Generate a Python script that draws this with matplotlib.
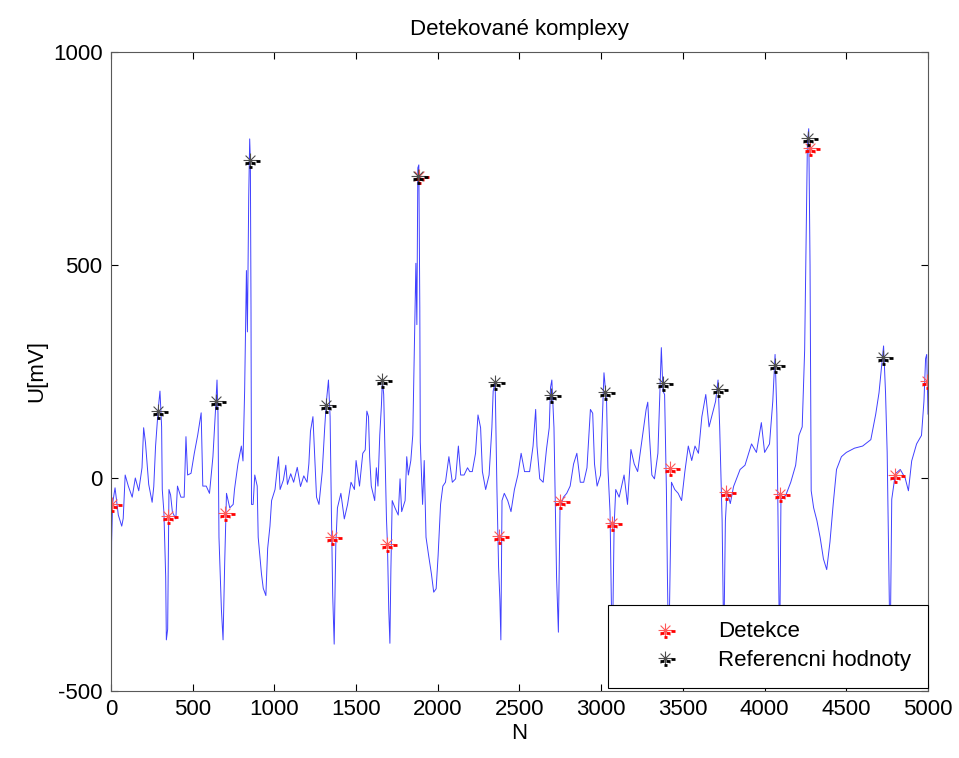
import numpy as np
import matplotlib.pyplot as plt
from matplotlib.path import Path
from matplotlib.legend_handler import HandlerTuple

plt.rcParams['font.family'] = ['Liberation Sans', 'DejaVu Sans']
plt.rcParams['axes.unicode_minus'] = False

# ECG signal, key points (N, U[mV])
sig_n = [0, 4, 10, 25, 45, 66, 75, 87, 107, 130, 149, 170, 190, 200, 211, 231, 252, 262, 273, 289,
         300, 310, 314, 324, 335, 339, 347, 355, 365, 376, 397, 407, 428, 448, 459, 469, 490, 510, 531, 552,
         562, 583, 603, 624, 640, 649, 655, 661, 676, 686, 696, 707, 727, 748,
         756, 777, 798, 808, 818, 829, 835, 843, 849, 853, 857, 860, 870, 880, 895, 901, 911, 921, 932, 948,
         959, 973, 983, 1004, 1025, 1035, 1055, 1070, 1080, 1100, 1118, 1140, 1160, 1180, 1200, 1211, 1221,
         1236, 1246, 1258, 1273, 1293, 1308, 1318, 1331, 1341, 1349, 1357, 1366, 1376, 1386, 1407, 1428,
         1448, 1469, 1490, 1500, 1521, 1541, 1556, 1566, 1576, 1583, 1593, 1614, 1624, 1634, 1645, 1655,
         1661, 1669, 1676, 1686, 1692, 1700, 1707, 1713, 1721, 1738, 1758, 1769, 1779, 1800, 1810, 1820,
         1835, 1847, 1857, 1866, 1872, 1878, 1884, 1890, 1893, 1907, 1917, 1928, 1944, 1961, 1975, 1990,
         2002, 2017, 2031, 2047, 2068, 2089, 2109, 2126, 2140, 2161, 2182, 2196,
         2211, 2231, 2246, 2262, 2273, 2293, 2314, 2331, 2339, 2351, 2362, 2372, 2380, 2386, 2393, 2407,
         2428, 2448, 2469, 2490, 2510, 2531, 2562, 2583, 2599, 2607, 2624, 2645, 2665, 2682, 2690, 2698,
         2711, 2719, 2727, 2738, 2748, 2769, 2789, 2810, 2831, 2851, 2872,
         2893, 2913, 2934, 2948, 2959, 2975, 2996, 3006, 3017, 3033, 3041, 3054, 3062, 3068, 3079, 3089,
         3110, 3130, 3140, 3161, 3182, 3202, 3223, 3254, 3275, 3285, 3295, 3310, 3326, 3347, 3362, 3368,
         3378, 3388, 3399, 3405, 3413, 3430, 3450, 3471, 3492, 3512, 3533, 3554, 3574, 3595, 3616, 3640,
         3660, 3680, 3700, 3715, 3725, 3740, 3750, 3760, 3770, 3790, 3810, 3850, 3880, 3920, 3950, 3980,
         4000, 4030, 4050, 4064, 4075, 4085, 4092, 4100, 4130, 4160, 4190, 4210, 4230, 4245, 4255, 4262,
         4270, 4278, 4285, 4300, 4320, 4340, 4360, 4380, 4400, 4420, 4440, 4470, 4500, 4550, 4600, 4650,
         4680, 4700, 4715, 4728, 4740, 4750, 4760, 4768, 4778, 4800, 4830, 4860, 4880, 4900, 4930, 4960,
         4975, 4985, 4992, 5000]
sig_u = [-460, -150, -60, -23, -87, -113, -95, 7, -20, -45, 0, -30, 24, 118, 84, -15, -57, -20, 75, 161,
         204, 120, -27, -80, -233, -380, -355, -27, -40, -80, -96, -19, -45, -45, 97, 7, 11, 58, 101, 153,
         -19, -19, -36, 50, 161, 230, 150, -139, -310, -380, -199, -36, -70, -62,
         -27, 33, 75, 40, 204, 487, 343, 659, 796, 745, 400, -62, -62, 7, -19, -139, -182, -225, -259, -276,
         -165, -113, -53, -27, 50, -27, -5, 30, -15, 10, -10, 25, -20, 5, -10, 33, 110,
         144, 60, -45, -62, 15, 118, 178, 230, 144, -79, -276, -390, -156, -70, -36, -96,
         -62, -10, -27, 41, -19, 58, 66, 157, 144, 50, -19, -53, 24, -19, 101, 170,
         230, 196, 75, -96, -156, -310, -388, -216, -53, -70, -87, -2, -79, -53, 50, 7,
         41, 101, 316, 504, 360, 728, 735, 400, 84, -62, 41, -139, -182, -225, -268, -260,
         -182, -62, -19, -10, 50, -10, -2, 75, 7, 7, 24, 15,
         15, 58, 148, 118, 15, -27, 7, 118, 204, 225, -27, -208, -285, -380, -53, -36,
         -53, -79, -27, 7, 58, 15, 15, 75, 161, 75, -2, -10, 67, 118, 213, 230,
         118, -62, -233, -362, -70, -45, -36, -19, 33, 58, -10,
         -10, 24, 161, 152, 33, -19, 7, 127, 247, 178, 24, -79, -285, -420, -113, -27,
         -45, -10, 7, -62, 67, 33, 15, 101, 161, 178, 101, 7, -2, 58, 230, 306,
         204, 196, -27, -225, -430, -10, -27, -36, -53, 15, 75, 41, 75, 58, 144, 196,
         120, 150, 180, 230, 120, -100, -400, -100, -30, -60, -20, 20, 30, 80, 60, 130,
         60, 80, 180, 290, 150, -200, -420, -50, -40, -10, 30, 100, 120, 300, 600, 790,
         820, 500, -30, -70, -100, -140, -190, -215, -150, -60, 20, 50, 60, 70, 75, 90,
         150, 200, 260, 310, 200, 60, -200, -420, -50, 10, 20, 0, -30, 40, 80, 100,
         180, 280, 290, 150]

# detected complexes (red) and reference values (black)
det_n = [4, 351, 696, 1351, 1692, 1882, 2376, 2748, 3068, 3419, 3764, 4094, 4278, 4798, 4994]
det_u = [-62, -89, -83, -139, -154, 710, -135, -53, -105, 24, -33, -38, 775, 7, 228]
ref_n = [289, 640, 849, 1318, 1659, 1878, 2349, 2690, 3023, 3378, 3715, 4064, 4266, 4725]
ref_u = [157, 180, 746, 172, 230, 708, 225, 194, 202, 223, 209, 265, 798, 284]

# asterisk marker and the little dashes that come with it
ang = np.deg2rad(np.arange(0, 180, 45))
star_v, star_c = [], []
for a in ang:
    star_v += [(np.cos(a), np.sin(a)), (-np.cos(a), -np.sin(a))]
    star_c += [Path.MOVETO, Path.LINETO]
star_v.append((1.6, 0))
star_c.append(Path.MOVETO)
star = Path(star_v, star_c)

dash_v = [(0.9, -0.1), (1.5, -0.1), (-0.7, -0.5), (-0.2, -0.5), (0.2, -0.45), (0.7, -0.45),
          (-0.15, -0.95), (0.3, -0.95), (1.6, 0)]
dash_c = [Path.MOVETO, Path.LINETO] * 4 + [Path.MOVETO]
dash = Path(dash_v, dash_c)

fig = plt.figure(figsize=(9.59, 7.58), dpi=100)
ax = fig.add_axes([0.1157, 0.0884, 0.852, 0.843])

ax.plot(sig_n, sig_u, color=(0.25, 0.25, 1.0), lw=0.7)

ms = 16
r1, = ax.plot(det_n, det_u, ls='none', marker=star, ms=ms, mec=(1, 0.35, 0.35), mew=0.8)
r2, = ax.plot(det_n, det_u, ls='none', marker=dash, ms=ms, mec='red', mew=2)
b1, = ax.plot(ref_n, ref_u, ls='none', marker=star, ms=ms, mec='0.3', mew=0.8)
b2, = ax.plot(ref_n, ref_u, ls='none', marker=dash, ms=ms, mec='black', mew=2)

ax.set_xlim(0, 5000)
ax.set_ylim(-500, 1000)
ax.set_xticks(np.arange(0, 5001, 500))
ax.set_yticks([-500, 0, 500, 1000])
ax.tick_params(direction='in', top=True, right=True, length=5, labelsize=16, pad=6)
for s in ax.spines.values():
    s.set_color('0.35')

ax.set_title('Detekované komplexy', fontsize=16, pad=12)
ax.set_xlabel('N', fontsize=16, labelpad=2)
ax.set_ylabel('U[mV]', fontsize=16, labelpad=4)

leg = ax.legend([(r1, r2), (b1, b2)], ['Detekce', 'Referencni hodnoty'],
                handler_map={tuple: HandlerTuple(ndivide=1, pad=0)},
                loc='lower right', bbox_to_anchor=(1.0, 0.005), borderaxespad=0,
                fontsize=16, fancybox=False, edgecolor='black', framealpha=1,
                handlelength=3.6, handletextpad=0.6, borderpad=0.75, labelspacing=0.35)
leg.get_frame().set_linewidth(0.8)

fig.savefig('out.png', dpi=100)
